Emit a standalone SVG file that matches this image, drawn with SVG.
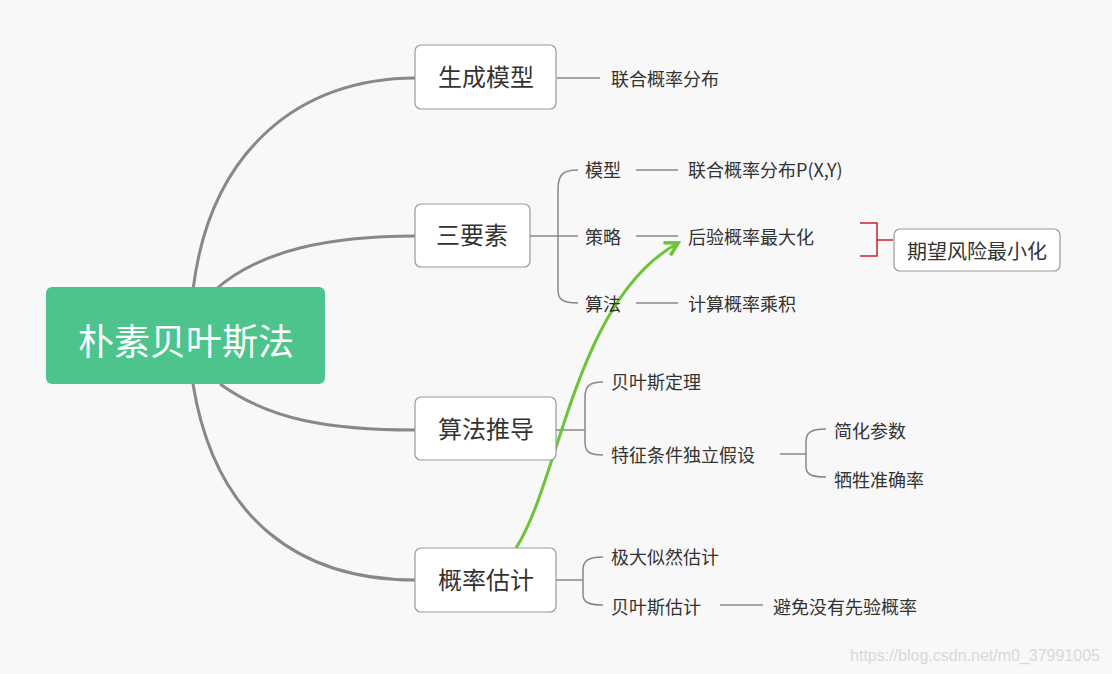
<svg xmlns="http://www.w3.org/2000/svg" width="1112" height="674" viewBox="0 0 1112 674">
<defs>
<style>
text{font-family:"Noto Sans CJK SC","Liberation Sans",sans-serif;fill:#333}
.n{fill:#fff;stroke:#999;stroke-width:1.2}
.t{font-size:24px}
.s{font-size:18px}
.b{fill:none;stroke:#888;stroke-width:3}
.l{fill:none;stroke:#888;stroke-width:1.5}
</style>
<marker id="ga" viewBox="0 0 10 10" refX="8" refY="5" markerWidth="6" markerHeight="6" orient="auto"><path d="M1,1 L8,5 L1,9" fill="none" stroke="#6cc43a" stroke-width="2"/></marker>
</defs>
<rect width="1112" height="674" fill="#f8f8f8"/>
<g id="connectors">
<path class="b" d="M193,290 C210,150 300,78 415,78"/>
<path class="b" d="M215,290 C260,250 330,236 415,236"/>
<path class="b" d="M220,384 C270,420 330,430 415,430"/>
<path class="b" d="M193,384 C215,520 300,580 415,580"/>
<path class="l" d="M557,78 H600"/>
<path class="l" d="M530,236 H558 M578,170 C562,170 558,175 558,190 V290 C558,299 562,303 578,303 M578,236 H558"/>
<path class="l" d="M636,170 H678 M636,236 H678 M636,303 H678"/>
<path class="l" d="M556,430 H585 M603,382 C588,382 585,387 585,398 V442 C585,451 588,455 603,455"/>
<path class="l" d="M780,454 H806 M826,429 C810,429 806,433 806,442 V466 C806,474 810,477 826,477"/>
<path class="l" d="M556,580 H583 M603,557 C588,557 583,561 583,570 V594 C583,602 588,605 603,605"/>
<path class="l" d="M720,605 H763"/>
<path d="M860,223 H877 V256 H860 M877,240 H893" fill="none" stroke="#cc2222" stroke-width="1.5"/>
<path d="M516,548 C560,480 575,300 678,243" fill="none" stroke="#6cc43a" stroke-width="3" marker-end="url(#ga)"/>
</g>
<g id="root"><rect x="46" y="287" width="279" height="97" rx="6" fill="#4dc48c"/><text x="186" y="355" font-size="36" text-anchor="middle" style="fill:#fff">朴素贝叶斯法</text></g>
<g id="n1"><rect class="n" x="415" y="45" width="141" height="64" rx="6"/><text class="t" x="486" y="86" text-anchor="middle">生成模型</text></g>
<g id="n2"><rect class="n" x="415" y="204" width="115" height="63" rx="6"/><text class="t" x="472" y="244" text-anchor="middle">三要素</text></g>
<g id="n3"><rect class="n" x="415" y="397" width="141" height="63" rx="6"/><text class="t" x="486" y="438" text-anchor="middle">算法推导</text></g>
<g id="n4"><rect class="n" x="415" y="548" width="141" height="64" rx="6"/><text class="t" x="486" y="589" text-anchor="middle">概率估计</text></g>
<g id="n5"><rect class="n" x="894" y="229" width="166" height="42" rx="6"/><text x="977" y="259" font-size="20" text-anchor="middle">期望风险最小化</text></g>
<g id="labels" class="s">
<text class="s" x="611" y="86">联合概率分布</text>
<text class="s" x="585" y="177">模型</text>
<text class="s" x="585" y="244">策略</text>
<text class="s" x="585" y="311">算法</text>
<text class="s" x="688" y="177">联合概率分布P(X,Y)</text>
<text class="s" x="688" y="244">后验概率最大化</text>
<text class="s" x="688" y="311">计算概率乘积</text>
<text class="s" x="611" y="389">贝叶斯定理</text>
<text class="s" x="611" y="462">特征条件独立假设</text>
<text class="s" x="834" y="438">简化参数</text>
<text class="s" x="834" y="487">牺牲准确率</text>
<text class="s" x="611" y="564">极大似然估计</text>
<text class="s" x="611" y="614">贝叶斯估计</text>
<text class="s" x="773" y="614">避免没有先验概率</text>
</g>
<text x="1100" y="661" font-size="16" text-anchor="end" style="fill:#d8d8d8;font-family:'Liberation Sans',sans-serif">https://blog.csdn.net/m0_37991005</text>
</svg>
